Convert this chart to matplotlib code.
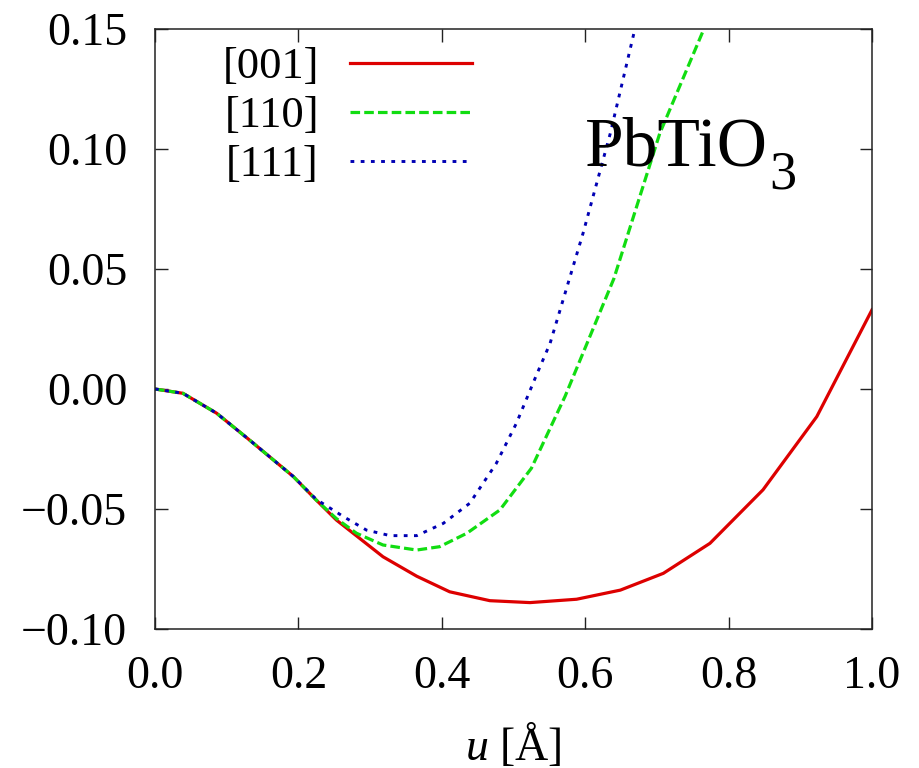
import matplotlib
matplotlib.use("Agg")
import matplotlib.pyplot as plt

# Energy curves of PbTiO3 along three displacement directions
u_001 = [0, 0.039, 0.086, 0.132, 0.193, 0.225, 0.253, 0.318, 0.365, 0.411, 0.467,
         0.523, 0.588, 0.649, 0.709, 0.774, 0.848, 0.923, 1.0]
E_001 = [0, -0.0018, -0.0101, -0.0213, -0.0365, -0.0463, -0.0546, -0.0699, -0.078,
         -0.0845, -0.0882, -0.089, -0.0876, -0.0838, -0.0768, -0.0643, -0.042,
         -0.0115, 0.033]

u_110 = [0, 0.039, 0.086, 0.132, 0.193, 0.225, 0.253, 0.281, 0.318, 0.365, 0.397,
         0.435, 0.481, 0.525, 0.572, 0.64, 0.704, 0.765]
E_110 = [0, -0.0018, -0.0101, -0.0213, -0.0365, -0.0463, -0.054, -0.0601, -0.065,
         -0.0671, -0.0657, -0.0601, -0.0504, -0.033, -0.003, 0.046, 0.1065, 0.1496]

u_111 = [0, 0.039, 0.086, 0.132, 0.193, 0.225, 0.263, 0.295, 0.328, 0.365, 0.402,
         0.439, 0.476, 0.504, 0.532, 0.551, 0.597, 0.635, 0.669]
E_111 = [0, -0.0018, -0.0101, -0.0213, -0.0365, -0.046, -0.0532, -0.0588, -0.0611,
         -0.0611, -0.056, -0.0476, -0.031, -0.0143, 0.0058, 0.019, 0.0649, 0.1065,
         0.1496]

labels = ["[001]", "[110]", "[111]"]
x_ticks = [0.0, 0.2, 0.4, 0.6, 0.8, 1.0]
y_ticks = [-0.10, -0.05, 0.00, 0.05, 0.10, 0.15]

plt.rcParams["font.family"] = ["Liberation Serif", "DejaVu Serif"]
plt.rcParams["mathtext.fontset"] = "custom"
plt.rcParams["mathtext.rm"] = "Liberation Serif"
plt.rcParams["mathtext.it"] = "Liberation Serif:italic"

fig = plt.figure(figsize=(9.19, 7.68), dpi=100)
ax = fig.add_axes([155 / 919, 1 - 629 / 768, 717 / 919, 600 / 768])

ax.plot(u_001, E_001, color="#dd0000", lw=2.3, label=labels[0])
ax.plot(u_110, E_110, color="#11dd11", lw=2.3, dashes=(3, 1.3), label=labels[1])
ax.plot(u_111, E_111, color="#0000b4", lw=2.1, dashes=(1.3, 2.2), label=labels[2])

ax.set_xlim(0, 1)
ax.set_ylim(-0.10, 0.15)
ax.set_xticks(x_ticks)
ax.set_yticks(y_ticks)
ax.set_xticklabels([f"{v:.1f}" for v in x_ticks])
ax.set_yticklabels([f"{v:.2f}".replace("-", "\u2212") for v in y_ticks])
ax.tick_params(direction="in", length=9, width=1.0, top=True, right=True,
               labelsize=33, color="#222222")
ax.tick_params(axis="x", pad=19)
ax.tick_params(axis="y", pad=20)
for s in ax.spines.values():
    s.set_linewidth(1.1)
    s.set_color("#222222")

ax.set_xlabel("$u$ [Å]", fontsize=33, labelpad=17)

title = ax.text(0.6, 0.773, "PbTiO", transform=ax.transAxes, fontsize=50,
                va="baseline", ha="left")
ax.annotate("3", xy=(1, 0), xycoords=title, xytext=(1, -8),
            textcoords="offset pixels", fontsize=39, va="baseline", ha="left")

leg = ax.legend(loc="upper left", bbox_to_anchor=(0.094, 0.97), frameon=False,
                fontsize=32, markerfirst=False, handlelength=2.75,
                handletextpad=0.7, labelspacing=0.2, borderpad=0,
                borderaxespad=0)

fig.savefig("out.png", dpi=100)
